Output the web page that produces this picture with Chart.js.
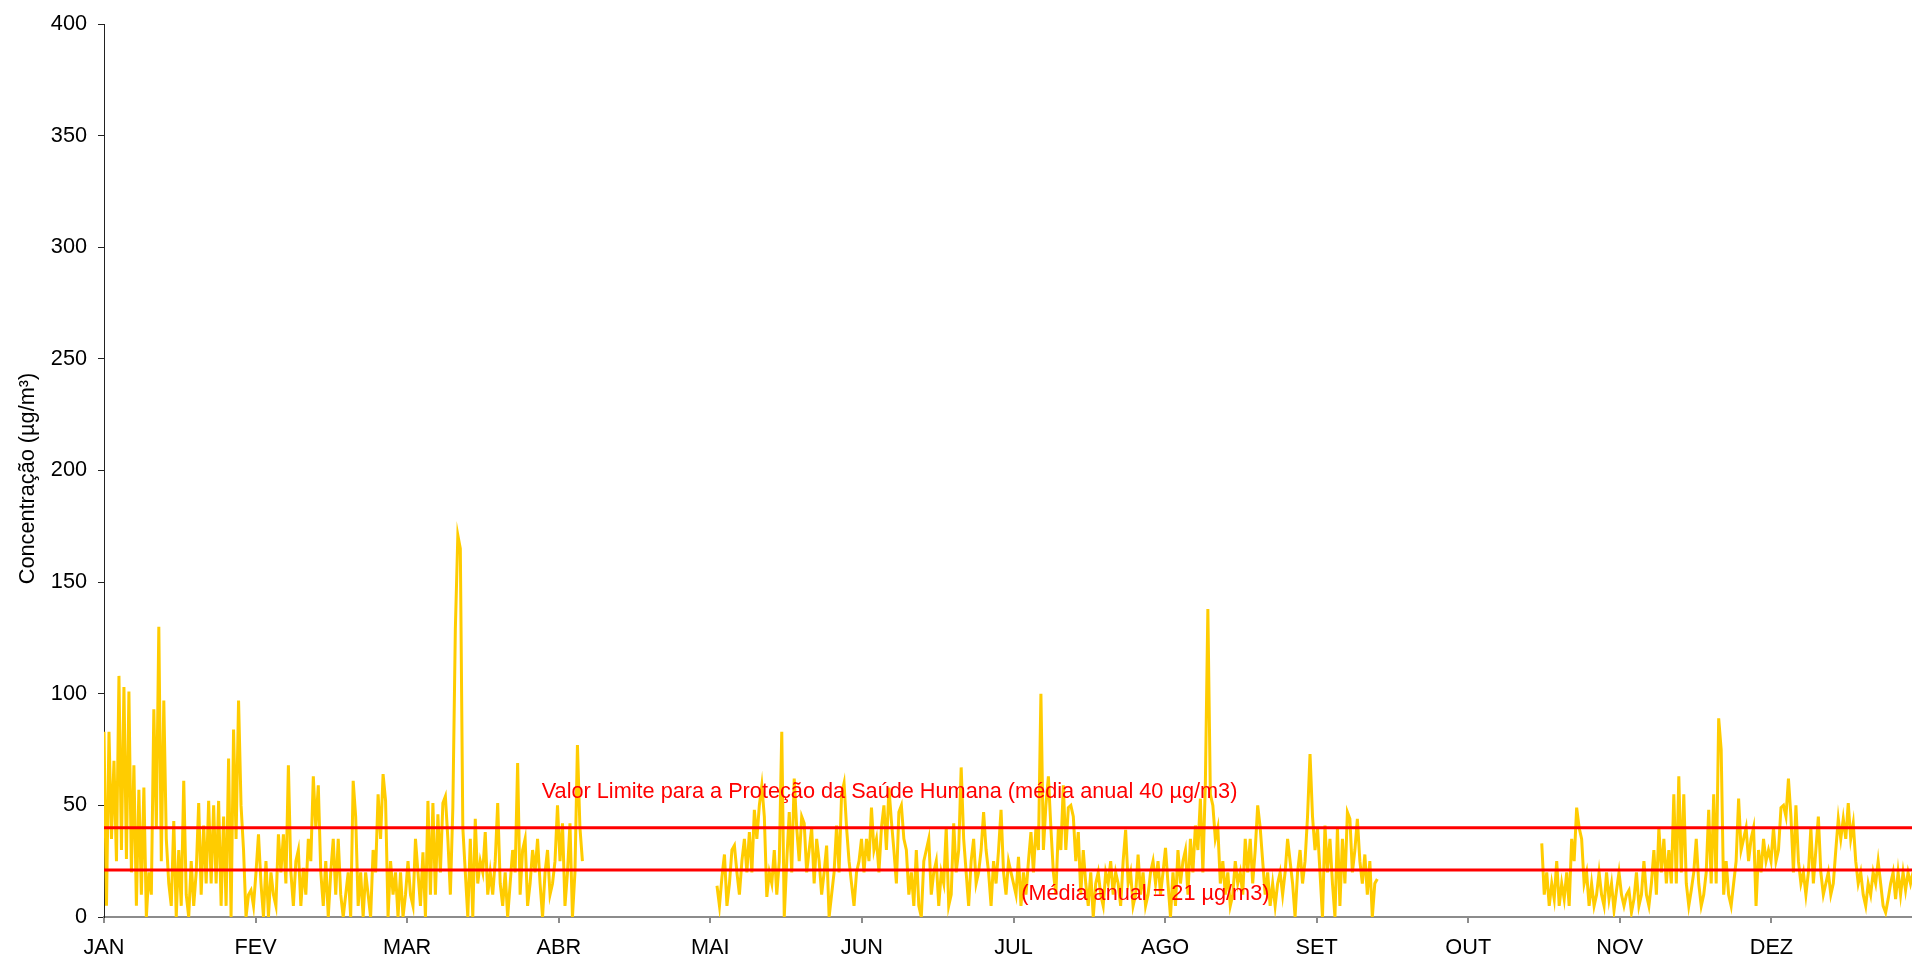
<!DOCTYPE html>
<html>
<head>
<meta charset="utf-8">
<script src="https://cdn.jsdelivr.net/npm/chart.js@4.4.0/dist/chart.umd.min.js"></script>
<style>
  html, body { margin: 0; padding: 0; background: #fff; }
  #caixa { position: relative; width: 1912px; height: 961px; }
</style>
</head>
<body>
<div id="caixa"><canvas id="grafico"></canvas></div>
<script>
'use strict';

// meses do eixo horizontal (um a cada 730 horas)
var meses = ['JAN', 'FEV', 'MAR', 'ABR', 'MAI', 'JUN', 'JUL', 'AGO', 'SET', 'OUT', 'NOV', 'DEZ'];
var horasPorMes = 730;
var passoHoras = 12;

// concentracoes (ug/m3), uma a cada 12 horas
var inicioJanAbr = 0;
var concJanAbr = [
  83,5,83,35,70,25,108,30,103,26, 101,20,68,5,57,10,58,0,20,10,
  93,40,130,25,97,35,15,5,43,0, 30,5,61,10,0,25,5,20,51,10,
  41,15,52,15,50,15,52,5,45,5, 71,0,84,35,97,50,30,0,10,12, 5,
  20,37,15,0,25,0,20,10,5,37, 20,37,15,68,20,5,25,30,5,22,
  10,35,25,63,40,59,20,5,25,0, 20,35,10,35,10,0,10,20,0,61,
  45,5,20,0,20,10,0,30,20,55, 35,64,52,0,25,10,20,0,20,0, 10,
  25,10,5,35,20,5,29,0,52,10, 51,10,46,20,51,54,35,10,49,129,
  171,165,40,20,0,35,0,44,15,25, 20,38,10,20,10,25,51,15,5,20,
  0,15,30,20,69,10,30,35,5,15, 30,20,35,15,0,20,30,10,15,25,
  50,25,42,5,20,42,0,20,77,40, 25
];

var inicioMaiSet = 246;
var concMaiSet = [
  14,5,18,28,5,15,30,32,20,10, 25,35,20,38,20,48,35,50,59,45,
  9,20,15,30,10,25,83,0,25,47, 20,62,40,25,45,42,20,30,40,15,
  35,25,10,20,32,0,10,20,41,20, 55,60,40,25,15,5,20,25,
  35,20,35,25,49,30,35,20,40,50, 30,58,43,30,15,47,50,35,30,10,
  20,5,30,5,0,25,30,35,10,20, 25,5,20,15,40,5,10,42,20,30,
  67,35,20,5,25,35,15,20,30,47, 30,20,5,25,15,30,48,20,10,25, 20,
  15,10,27,5,20,10,25,38,20,40, 30,100,30,50,63,40,20,10,40,30,
  59,30,49,50,45,25,38,10,30,15, 5,20,0,15,20,10,5,20,15,25,
  10,20,15,5,25,39,15,20,5,10, 28,10,20,5,10,20,25,15,25,10,
  20,31,15,0,20,5,30,15,25,30, 10,35,20,41,30,53,20,60,138,55,
  50,35,40,15,25,10,20,5,10,25, 15,20,10,35,20,35,15,30,50,40,
  25,10,20,5,15,5,15,20,10,20, 35,25,15,0,20,30,15,25,45,73,
  45,30,40,
  20,0,41,20,35,15,0,40,5,35, 15,47,44,20,30,44,25,15,28,10, 25,0,15,17
];

var inicioOutDez = 577;
var concOutDez = [
  33,10,20,5,15,8,25,5,15,8, 20,5,35,25,49,40,35,15,20,5,
  15,5,10,20,10,5,20,8,15,3, 12,20,10,5,10,12,2,8,20,5,
  10,25,10,5,15,30,10,40,20,35, 15,30,15,55,15,63,20,55,15,5,
  12,20,35,15,5,10,20,48,15,55, 15,89,75,10,25,10,5,15,25,53,
  30,35,40,25,35,40,5,30,20,35, 25,30,25,40,25,30,49,50,45,62,
  45,20,50,25,15,20,10,20,40,15, 30,45,20,10,15,20,10,15,30,44,
  35,44,35,51,35,42,25,15,20,10, 5,15,10,20,15,25,15,5,2,8,
  15,20,8,20,10,20,12,20,15,20, 10,18,12
];

var valorLimite = 40;
var mediaAnual = 21;
var marcasY = [0, 50, 100, 150, 200, 250, 300, 350, 400];

var fonte = "'Liberation Sans', Arial, sans-serif";
var tamanhoFonte = 21.7;

function montarSerie() {
  var pontos = [];
  var segmentos = [
    [inicioJanAbr, concJanAbr],
    [inicioMaiSet, concMaiSet],
    [inicioOutDez, concOutDez]
  ];
  segmentos.forEach(function(seg, s) {
    if (s > 0) pontos.push({x: (seg[0] - 1) * passoHoras, y: null});
    seg[1].forEach(function(v, i) {
      pontos.push({x: (seg[0] + i) * passoHoras, y: v});
    });
  });
  return pontos;
}

function linhaHorizontal(valor) {
  return [{x: 0, y: valor}, {x: meses.length * horasPorMes, y: valor}];
}

// textos em vermelho e titulo do eixo y
var textosPlugin = {
  id: 'textos',
  afterDatasetsDraw: function(chart, args, opts) {
    var ctx = chart.ctx;
    var sx = chart.scales.x;
    var sy = chart.scales.y;
    ctx.save();
    ctx.font = tamanhoFonte + 'px ' + fonte;
    ctx.textAlign = 'center';
    ctx.textBaseline = 'middle';
    ctx.fillStyle = '#FF0000';
    opts.notas.forEach(function(n) {
      ctx.fillText(n.texto, sx.getPixelForValue(n.hora), sy.getPixelForValue(n.valor));
    });
    ctx.fillStyle = '#000';
    ctx.translate(opts.tituloX, (sy.top + sy.bottom) / 2 + opts.tituloDy);
    ctx.rotate(-Math.PI / 2);
    ctx.fillText(opts.tituloY, 0, 0);
    ctx.restore();
  }
};

var ctx = document.getElementById('grafico');

new Chart(ctx, {
  type: 'line',
  data: {
    datasets: [
      {
        data: linhaHorizontal(valorLimite),
        borderColor: '#FF0000',
        borderWidth: 3,
        pointRadius: 0
      },
      {
        data: linhaHorizontal(mediaAnual),
        borderColor: '#FF0000',
        borderWidth: 3,
        pointRadius: 0
      },
      {
        data: montarSerie(),
        borderColor: '#FFCC00',
        borderWidth: 3,
        pointRadius: 0,
        tension: 0,
        spanGaps: false
      }
    ]
  },
  options: {
    responsive: true,
    maintainAspectRatio: false,
    animation: false,
    layout: { padding: { top: 22, right: 0, left: 0, bottom: 0 } },
    plugins: {
      legend: { display: false },
      tooltip: { enabled: false },
      textos: {
        tituloY: 'Concentração (µg/m³)',
        tituloX: 28,
        tituloDy: 8,
        notas: [
          { texto: 'Valor Limite para a Proteção da Saúde Humana (média anual 40 µg/m3)', hora: 3783, valor: 55.8 },
          { texto: '(Média anual = 21 µg/m3)', hora: 5015, valor: 10.3 }
        ]
      }
    },
    scales: {
      x: {
        type: 'linear',
        min: 0,
        max: 8707,
        afterBuildTicks: function(scale) {
          scale.ticks = meses.map(function(m, i) { return { value: i * horasPorMes }; });
        },
        afterFit: function(scale) { scale.height = 44; },
        ticks: {
          autoSkip: false,
          maxRotation: 0,
          padding: 12,
          color: '#000',
          font: { family: fonte, size: tamanhoFonte },
          callback: function(value) { return meses[Math.round(value / horasPorMes)]; }
        },
        grid: { drawOnChartArea: false, drawTicks: true, tickLength: 6, color: '#8c8c8c', lineWidth: 2 },
        border: { display: true, color: '#8c8c8c', width: 2 }
      },
      y: {
        min: 0,
        max: 400,
        afterBuildTicks: function(scale) {
          scale.ticks = marcasY.map(function(v) { return { value: v }; });
        },
        afterFit: function(scale) { scale.width = 104; },
        ticks: {
          padding: 11,
          color: '#000',
          font: { family: fonte, size: tamanhoFonte }
        },
        grid: { drawOnChartArea: false, drawTicks: true, tickLength: 6, color: '#222', lineWidth: 1 },
        border: { display: true, color: '#222', width: 1 }
      }
    }
  },
  plugins: [textosPlugin]
});
</script>
</body>
</html>
